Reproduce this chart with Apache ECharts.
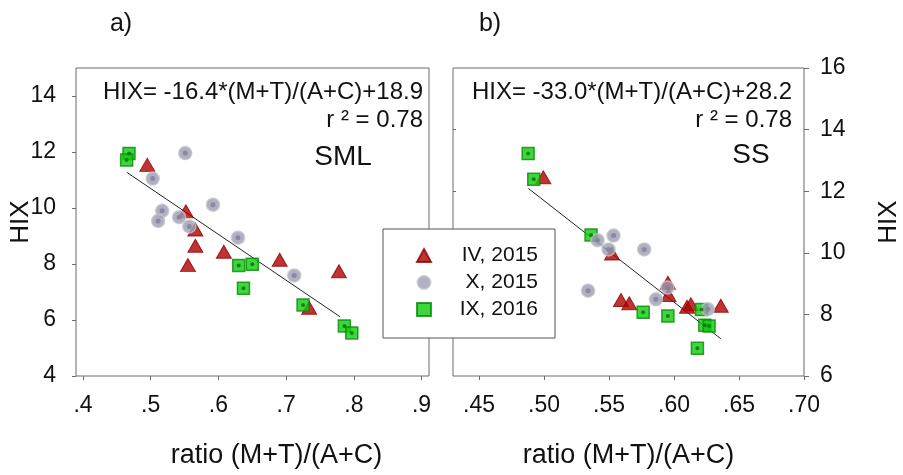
<!DOCTYPE html>
<html>
<head>
<meta charset="utf-8">
<script src="https://cdn.jsdelivr.net/npm/echarts@6/dist/echarts.min.js"></script>
<style>html,body{margin:0;background:#fff}#chart{width:903px;height:475px}</style>
</head>
<body>
<div id="chart"></div>
<script>
// a) SML
var redA = [[0.495, 11.54], [0.552, 9.88], [0.566, 9.23], [0.566, 8.65], [0.555, 7.96], [0.608, 8.44], [0.6905, 8.15], [0.778, 7.74], [0.734, 6.44]]
var grayA = [[0.551, 11.96], [0.503, 11.05], [0.517, 9.90], [0.511, 9.54], [0.542, 9.67], [0.557, 9.34], [0.592, 10.12], [0.629, 8.94], [0.712, 7.59]]
var greenA = [[0.468, 11.95], [0.4645, 11.71], [0.630, 7.95], [0.650, 7.99], [0.637, 7.13], [0.725, 6.54], [0.786, 5.79], [0.797, 5.54]]
var fitA = [[0.465, 11.27], [0.780, 6.11]]
// b) SS
var redB = [[0.4995, 12.45], [0.5523, 9.98], [0.5953, 9.03], [0.5958, 8.63], [0.5592, 8.47], [0.5656, 8.36], [0.610, 8.25], [0.613, 8.33], [0.636, 8.28]]
var grayB = [[0.5412, 10.41], [0.5535, 10.56], [0.5497, 10.11], [0.5771, 10.11], [0.5339, 8.77], [0.5861, 8.49], [0.595, 8.87], [0.626, 8.17]]
var greenB = [[0.4878, 13.22], [0.4921, 12.39], [0.5362, 10.58], [0.5763, 8.07], [0.5953, 7.95], [0.6211, 8.16], [0.6237, 7.65], [0.627, 7.62], [0.618, 6.90]]
var fitB = [[0.488, 12.09], [0.636, 7.21]]

var names = ['IV, 2015', 'X, 2015', 'IX, 2016']
var xTicksA = [0.4, 0.5, 0.6, 0.7, 0.8, 0.9]
var xTicksB = [0.45, 0.5, 0.55, 0.6, 0.65, 0.7]
var yTicksA = [4, 6, 8, 10, 12, 14]
var yTicksB = [6, 8, 10, 12, 14, 16]
var yTicksBInner = [8, 10, 12, 14]
var eqA = 'HIX= -16.4*(M+T)/(A+C)+18.9'
var eqB = 'HIX= -33.0*(M+T)/(A+C)+28.2'
var r2 = 'r ² = 0.78'

var FONT = '"Liberation Sans", Arial, sans-serif'
var frame = '#6b6b6b'

function pts(name, data, gi, symbol, size, style, z) {
  return {
    name: name, type: 'scatter', xAxisIndex: gi, yAxisIndex: gi,
    symbol: symbol, symbolSize: size, itemStyle: style, z: z, data: data
  }
}
function dots(data, gi, color, size) {
  return {
    type: 'scatter', xAxisIndex: gi, yAxisIndex: gi, silent: true,
    symbol: 'circle', symbolSize: size, itemStyle: { color: color }, z: 5, data: data
  }
}
function fit(data, gi) {
  return {
    type: 'line', xAxisIndex: gi, yAxisIndex: gi, silent: true, symbol: 'none',
    lineStyle: { color: '#222', width: 1 }, z: 1, data: data
  }
}

var redStyle = { color: '#b00000', borderColor: '#900000', borderWidth: 1 }
var grayStyle = { color: '#9c9cb0', borderColor: '#c2c2cc', borderWidth: 1.5 }
var greenStyle = { color: '#0ccc0c', borderColor: '#078a07', borderWidth: 1.5 }

function xAxis(gi, min, max, ticks, digits, nameShift) {
  return {
    type: 'value', gridIndex: gi, min: min, max: max,
    axisLine: { show: false }, splitLine: { show: false },
    axisTick: { customValues: ticks, length: 4, lineStyle: { color: frame } },
    axisLabel: {
      customValues: ticks, margin: 18, color: '#111', fontSize: 23, fontFamily: FONT,
      formatter: function (v) { return v.toFixed(digits).replace(/^0/, '') }
    },
    name: 'ratio (M+T)/(A+C)', nameLocation: 'middle', nameGap: 66, nameMoveOverlap: false,
    nameTextStyle: { fontSize: 27, fontFamily: FONT, color: '#111', padding: [0, 0, 0, nameShift] }
  }
}

var option = {
  backgroundColor: '#fff',
  animation: false,
  grid: [
    { left: 76, top: 68, width: 353, height: 308, show: true, borderColor: frame, borderWidth: 1 },
    { left: 453, top: 68, width: 352, height: 308, show: true, borderColor: frame, borderWidth: 1 }
  ],
  xAxis: [
    xAxis(0, 0.3897, 0.911, xTicksA, 1, 48),
    xAxis(1, 0.43, 0.70, xTicksB, 2, 0)
  ],
  yAxis: [
    {
      type: 'value', gridIndex: 0, min: 4, max: 15, position: 'left',
      axisLine: { show: false }, splitLine: { show: false },
      axisTick: { customValues: yTicksA, length: 4, lineStyle: { color: frame } },
      axisLabel: { customValues: yTicksA, margin: 20, color: '#111', fontSize: 23, fontFamily: FONT },
      name: 'HIX', nameLocation: 'middle', nameGap: 42, nameRotate: 90, nameMoveOverlap: false,
      nameTextStyle: { fontSize: 26, fontFamily: FONT, color: '#111' }
    },
    {
      type: 'value', gridIndex: 1, min: 6, max: 16, position: 'right',
      axisLine: { show: false }, splitLine: { show: false },
      axisTick: { customValues: yTicksB, length: 5, lineStyle: { color: frame } },
      axisLabel: { customValues: yTicksB, margin: 16, color: '#111', fontSize: 23, fontFamily: FONT },
      name: 'HIX', nameLocation: 'middle', nameGap: 72, nameRotate: 90, nameMoveOverlap: false,
      nameTextStyle: { fontSize: 26, fontFamily: FONT, color: '#111' }
    },
    {
      type: 'value', gridIndex: 1, min: 6, max: 16, position: 'left',
      axisLine: { show: false }, splitLine: { show: false },
      axisTick: { inside: true, customValues: yTicksBInner, length: 3, lineStyle: { color: frame } },
      axisLabel: { show: false }
    }
  ],
  legend: {
    left: 383, top: 229, orient: 'vertical',
    data: [
      { name: names[0], icon: 'triangle' },
      { name: names[1], icon: 'circle' },
      { name: names[2], icon: 'rect' }
    ],
    itemWidth: 14, itemHeight: 13, itemGap: 6,
    padding: [16, 17, 18, 33],
    backgroundColor: '#fff', borderColor: '#555', borderWidth: 1,
    formatter: '{t|{name}}',
    textStyle: {
      rich: { t: { width: 102, align: 'right', fontSize: 21, fontFamily: FONT, color: '#111' } }
    }
  },
  graphic: [
    { type: 'text', x: 121, y: 24, style: { text: 'a)', font: '25px ' + FONT, fill: '#111', align: 'center', verticalAlign: 'middle' } },
    { type: 'text', x: 490, y: 24, style: { text: 'b)', font: '25px ' + FONT, fill: '#111', align: 'center', verticalAlign: 'middle' } },
    { type: 'text', x: 423, y: 92, style: { text: eqA, font: '24px ' + FONT, fill: '#111', align: 'right', verticalAlign: 'middle' } },
    { type: 'text', x: 423, y: 120, style: { text: r2, font: '24px ' + FONT, fill: '#111', align: 'right', verticalAlign: 'middle' } },
    { type: 'text', x: 343, y: 157, style: { text: 'SML', font: '28px ' + FONT, fill: '#111', align: 'center', verticalAlign: 'middle' } },
    { type: 'text', x: 792, y: 92, style: { text: eqB, font: '24px ' + FONT, fill: '#111', align: 'right', verticalAlign: 'middle' } },
    { type: 'text', x: 792, y: 120, style: { text: r2, font: '24px ' + FONT, fill: '#111', align: 'right', verticalAlign: 'middle' } },
    { type: 'text', x: 751, y: 155, style: { text: 'SS', font: '28px ' + FONT, fill: '#111', align: 'center', verticalAlign: 'middle' } }
  ],
  series: [
    fit(fitA, 0),
    fit(fitB, 1),
    pts(names[0], redA, 0, 'triangle', [15, 13], redStyle, 2),
    pts(names[2], greenA, 0, 'rect', 12, greenStyle, 3),
    dots(greenA, 0, '#0a6e0a', 4),
    pts(names[1], grayA, 0, 'circle', 13, grayStyle, 4),
    dots(grayA, 0, '#80809a', 5),
    pts(names[0], redB, 1, 'triangle', [15, 13], redStyle, 2),
    pts(names[2], greenB, 1, 'rect', 12, greenStyle, 3),
    dots(greenB, 1, '#0a6e0a', 4),
    pts(names[1], grayB, 1, 'circle', 13, grayStyle, 4),
    dots(grayB, 1, '#80809a', 5)
  ]
}

var chart = echarts.init(document.getElementById('chart'))
chart.setOption(option)
</script>
</body>
</html>
